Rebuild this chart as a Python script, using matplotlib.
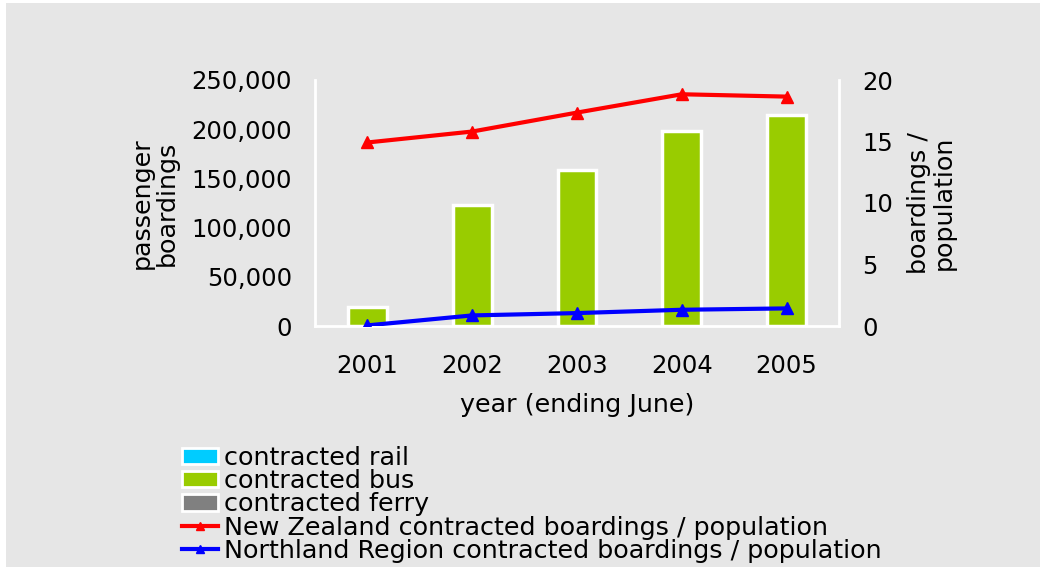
import numpy as np
import matplotlib
matplotlib.use("Agg")
import matplotlib.pyplot as plt
from matplotlib.patches import Patch, Rectangle
from matplotlib.lines import Line2D
from matplotlib.ticker import FuncFormatter

# data
years = ["2001", "2002", "2003", "2004", "2005"]
bus = [18900, 123000, 158100, 198600, 214500]
nz_per_pop = [14.92, 15.81, 17.35, 18.84, 18.65]
northland_per_pop = [0.05, 0.86, 1.05, 1.32, 1.43]

bg = "#e6e6e6"
green = "#99cc00"
fs_tick = 17.5
fs = 18.3

plt.rcParams['font.family'] = ['DejaVu Sans']

fig = plt.figure(figsize=(10.4, 5.67), dpi=100)
fig.patch.set_facecolor("white")
# grey panel (white strip left/top like the original)
fig.patches.append(Rectangle((6/1040, 0), 1, 1 - 3/567, transform=fig.transFigure,
                             facecolor=bg, edgecolor="none", zorder=-10))

ax = fig.add_axes([315/1040, 1 - 326/567, (839-315)/1040, (326-80)/567])
ax.set_facecolor("none")
x = np.arange(len(years))
ax.bar(x, bus, width=0.37, color=green, edgecolor="white", linewidth=2.5, zorder=2)
ax.set_xlim(-0.5, 4.5)
ax.set_ylim(0, 250000)
ax.set_yticks(np.arange(0, 250001, 50000))
ax.yaxis.set_major_formatter(FuncFormatter(lambda v, p: f"{int(v):,}"))
ax.set_xticks(x)
ax.set_xticklabels(years)
ax.tick_params(axis="both", length=0, labelsize=fs_tick)
ax.tick_params(axis="y", pad=16.5)
ax.tick_params(axis="x", pad=20)
for s in ["top", "right"]:
    ax.spines[s].set_visible(False)
for s in ["left", "bottom"]:
    ax.spines[s].set_color("white")
    ax.spines[s].set_linewidth(2)
ax.set_xlabel("year (ending June)", fontsize=fs, labelpad=11)
ax.set_ylabel("passenger\nboardings", fontsize=fs, linespacing=1.05, labelpad=9)

ax2 = ax.twinx()
ax2.plot(x, nz_per_pop, color="red", lw=3, marker="^", ms=8, zorder=3)
ax2.plot(x, northland_per_pop, color="blue", lw=3, marker="^", ms=8, zorder=3)
ax2.set_ylim(0, 20)
ax2.set_yticks([0, 5, 10, 15, 20])
ax2.tick_params(axis="y", length=0, labelsize=fs_tick, pad=16.5)
for s in ["top", "left", "bottom"]:
    ax2.spines[s].set_visible(False)
ax2.spines["right"].set_color("white")
ax2.spines["right"].set_linewidth(2)
ax2.set_ylabel("boardings /\npopulation", fontsize=fs, linespacing=1.05, labelpad=10)

handles = [
    Patch(facecolor="#00ccff", edgecolor="white", linewidth=2),
    Patch(facecolor=green, edgecolor="white", linewidth=2),
    Patch(facecolor="#808080", edgecolor="white", linewidth=2),
    Line2D([0], [0], color="red", lw=3, marker="^", ms=6),
    Line2D([0], [0], color="blue", lw=3, marker="^", ms=6),
]
labels = [
    "contracted rail",
    "contracted bus",
    "contracted ferry",
    "New Zealand contracted boardings / population",
    "Northland Region contracted boardings / population",
]
fig.legend(handles, labels, loc="upper left", bbox_to_anchor=(182/1040, 1 - 446/567),
           frameon=False, fontsize=fs, handlelength=1.4, handleheight=0.6,
           handletextpad=0.24, labelspacing=-0.03, borderpad=0, borderaxespad=0)

fig.savefig("out.png", dpi=100, facecolor=fig.get_facecolor())
